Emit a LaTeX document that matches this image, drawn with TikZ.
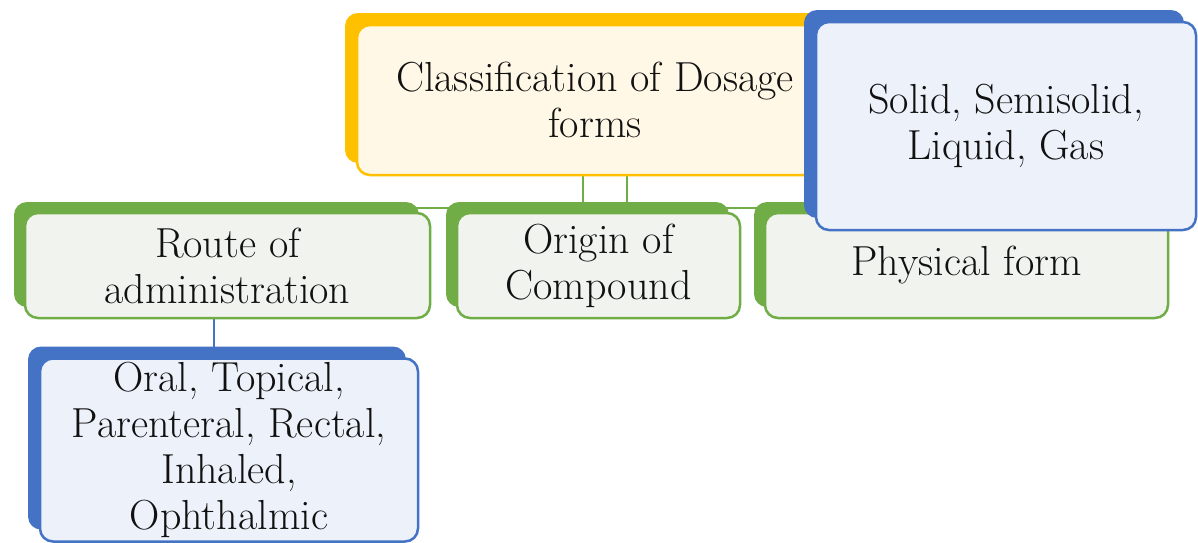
\documentclass[tikz,border=0pt]{standalone}
\usetikzlibrary{shadows,calc}
\pgfdeclarelayer{bg}
\pgfsetlayers{bg,main}
\definecolor{cOr}{HTML}{FFC000}
\definecolor{cOrF}{HTML}{FFF8E6}
\definecolor{cBl}{HTML}{4472C4}
\definecolor{cBlF}{HTML}{EDF1FA}
\definecolor{cGr}{HTML}{70AD47}
\definecolor{cGrF}{HTML}{F1F4EE}
\definecolor{cTx}{HTML}{111111}
\tikzset{
  card/.style={rounded corners=13pt, line width=2.5pt, align=center, text=cTx,
    font=\fontsize{42}{46}\selectfont, inner sep=0pt},
  orcard/.style={card, draw=cOr, fill=cOrF,
    general shadow={shadow xshift=-12pt, shadow yshift=12pt, fill=cOr}},
  blcard/.style={card, draw=cBl, fill=cBlF,
    general shadow={shadow xshift=-12pt, shadow yshift=12pt, fill=cBl}},
  grcard/.style={card, draw=cGr, fill=cGrF,
    general shadow={shadow xshift=-11pt, shadow yshift=11pt, fill=cGr}},
  grline/.style={draw=cGr, line width=2pt},
  blline/.style={draw=cBl, line width=2pt}
}
\begin{document}
\begin{tikzpicture}[x=1pt,y=-1pt]
\useasboundingbox (0,0) rectangle (1198,542);
\begin{pgfonlayer}{bg}
  \fill[white] (0,0) rectangle (1198,542);
\end{pgfonlayer}

\node[orcard, minimum width=476pt, minimum height=150pt] (top) at (595,100)
  {Classification of Dosage\\forms};
\node[grcard, minimum width=405pt, minimum height=105pt] (route) at (227.5,265.5)
  {Route of\\administration};
\node[grcard, minimum width=283pt, minimum height=105pt] (origin) at (598.5,265.5)
  {Origin of\\Compound};
\node[grcard, minimum width=403pt, minimum height=105pt] (phys) at (966.5,265.5)
  {Physical form};
\node[blcard, minimum width=380pt, minimum height=208pt] (solid) at (1006,126)
  {Solid, Semisolid,\\Liquid, Gas};
\node[blcard, minimum width=378pt, minimum height=183pt] (oral) at (229,450)
  {Oral, Topical,\\Parenteral, Rectal,\\Inhaled,\\Ophthalmic};

\coordinate (hl) at (0,208);
\coordinate (v1) at (583,0);
\coordinate (v2) at (627,0);
\coordinate (bx) at (214,0);
\begin{pgfonlayer}{bg}
  \draw[grline] (route.center |- hl) -- (origin.center |- hl);
  \draw[grline] (origin.center |- hl) -- (phys.center |- hl);
  \draw[grline] (top.south -| v1) -- (origin.north -| v1);
  \draw[grline] (top.south -| v2) -- (origin.north -| v2);
  \draw[blline] (route.south -| bx) -- (oral.north -| bx);
\end{pgfonlayer}
\end{tikzpicture}
\end{document}
